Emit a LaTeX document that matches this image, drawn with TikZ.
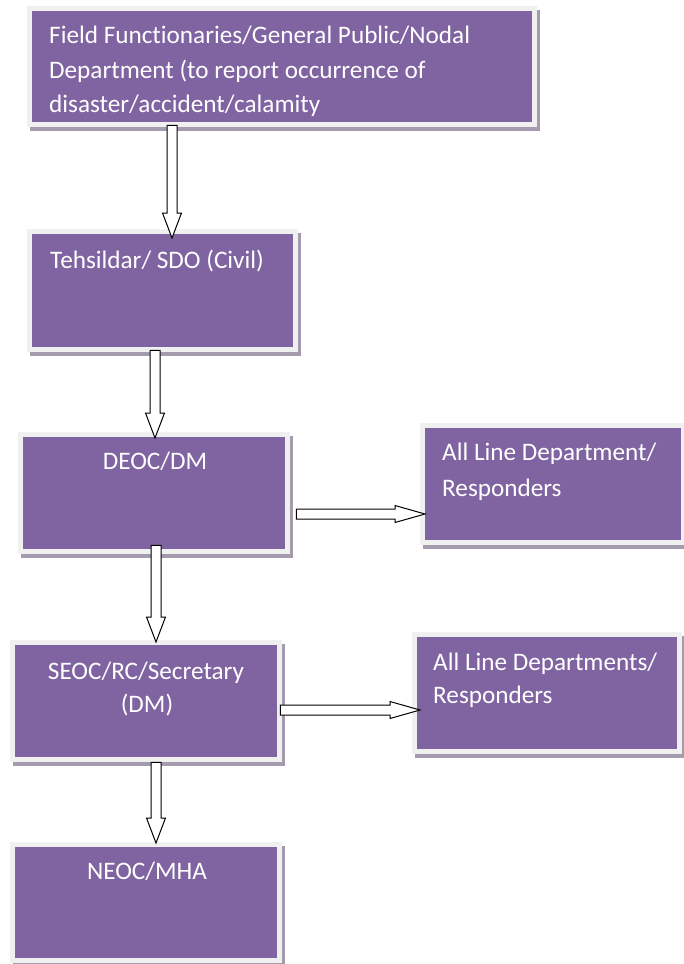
\documentclass[tikz,border=0pt]{standalone}
\usepackage{fontspec}
\setmainfont{Carlito}[Ligatures=NoCommon]
\usetikzlibrary{calc}
\definecolor{boxpurple}{HTML}{8064A2}
\definecolor{framegray}{HTML}{F0F0F0}
\definecolor{shadowgray}{HTML}{A49CAE}
\begin{document}
\begin{tikzpicture}[x=1pt,y=-1pt,
  pbox/.style={rectangle, fill=boxpurple, inner sep=0pt, anchor=north west,
    preaction={fill=shadowgray, draw=shadowgray, line width=10pt, transform canvas={xshift=3pt,yshift=-4pt}},
    preaction={draw=framegray, line width=10pt}},
  txt/.style={inner sep=0pt, text=white, font=\fontsize{25.2}{30}\selectfont},
  downarrow/.style={draw=black, fill=white, line width=1pt, line join=miter,
    to path={let \p1=(\tikztostart), \p2=(\tikztotarget) in
      (\x1-5pt,\y1) -- (\x1-5pt,\y2+25pt) -- (\x1-9.5pt,\y2+25pt) -- (\x1,\y2)
      -- (\x1+9.5pt,\y2+25pt) -- (\x1+5pt,\y2+25pt) -- (\x1+5pt,\y1) -- cycle}},
  rightarrow/.style={draw=black, fill=white, line width=1pt, line join=miter,
    to path={let \p1=(\tikztostart), \p2=(\tikztotarget) in
      (\x1,\y1-5pt) -- (\x2-30pt,\y1-5pt) -- (\x2-30pt,\y1-8.5pt) -- (\x2,\y1)
      -- (\x2-30pt,\y1+8.5pt) -- (\x2-30pt,\y1+5pt) -- (\x1,\y1+5pt) -- cycle}}
]
\useasboundingbox[fill=white] (0,0) rectangle (683,964);

% boxes
\node[pbox, minimum width=500pt, minimum height=111pt] (b1) at (32,11) {};
\node[pbox, minimum width=261pt, minimum height=113pt] (b2) at (32,234) {};
\node[pbox, minimum width=262pt, minimum height=112pt] (b3) at (23,437) {};
\node[pbox, minimum width=256pt, minimum height=112pt] (b4) at (425,428) {};
\node[pbox, minimum width=262pt, minimum height=112pt] (b5) at (15,645) {};
\node[pbox, minimum width=260pt, minimum height=112pt] (b6) at (417,637) {};
\node[pbox, minimum width=262pt, minimum height=111pt] (b7) at (15,847) {};

% texts
\node[txt, anchor=base west] (t1a) at (49,43) {Field Functionaries/General Public/Nodal};
\node[txt, anchor=base west] (t1b) at (49,78) {Department (to report occurrence of};
\node[txt, anchor=base west] (t1c) at (49,112) {disaster/accident/calamity};
\node[txt, anchor=base west] (t2) at (50,268) {Tehsildar/ SDO (Civil)};
\node[txt, anchor=base] (t3) at (155,469) {DEOC/DM};
\node[txt, anchor=base west] (t4a) at (442,460) {All Line Department/};
\node[txt, anchor=base west] (t4b) at (442,496) {Responders};
\node[txt, anchor=base] (t5a) at (146,679) {SEOC/RC/Secretary};
\node[txt, anchor=base] (t5b) at (147,712) {(DM)};
\node[txt, anchor=base west] (t6a) at (433,670) {All Line Departments/};
\node[txt, anchor=base west] (t6b) at (433,703) {Responders};
\node[txt, anchor=base] (t7) at (147,879) {NEOC/MHA};

% arrows
\draw[downarrow] ([shift={(140,3)}]b1.south west) to ([shift={(140,4)}]b2.north west);
\draw[downarrow] ([shift={(123,3)}]b2.south west) to ([shift={(132,1)}]b3.north west);
\draw[downarrow] ([shift={(133,-4)}]b3.south west) to ([shift={(141,-3)}]b5.north west);
\draw[downarrow] ([shift={(141,5)}]b5.south west) to ([shift={(141,-4)}]b7.north west);
\draw[rightarrow] ([shift={(11,0)}]b3.east |- 0,514) to (b4.west |- 0,514);
\draw[rightarrow] ([shift={(3,0)}]b5.east |- 0,710) to ([shift={(3,0)}]b6.west |- 0,710);
\end{tikzpicture}
\end{document}
